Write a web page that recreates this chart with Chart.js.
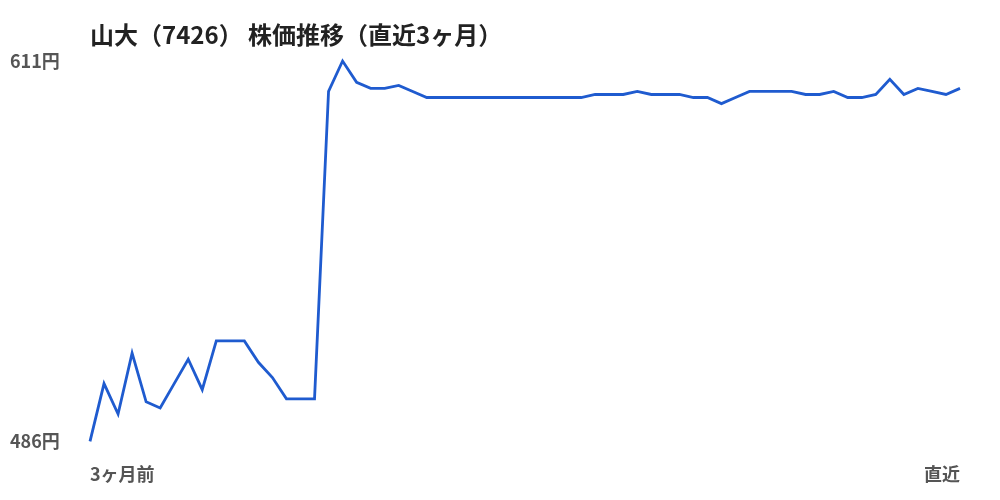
<!DOCTYPE html>
<html lang="ja">
<head>
<meta charset="utf-8">
<script src="https://cdn.jsdelivr.net/npm/chart.js@4.4.1/dist/chart.umd.min.js"></script>
<style>
  html, body { margin: 0; padding: 0; background: #ffffff; }
  #wrap { width: 1000px; height: 500px; }
</style>
</head>
<body>
<div id="wrap"><canvas id="priceChart" width="1000" height="500"></canvas></div>
<script>
const chartTitle = '山大（7426） 株価推移（直近3ヶ月）';
const startLabel = '3ヶ月前';
const endLabel = '直近';
const yMin = 486;
const yMax = 611;
const prices = [
    486, 505, 495, 515, 499, 497, 505, 513, 503, 519, 519, 519, 512, 507, 500, 500, 500,
    601, 611, 604, 602, 602, 603, 601,
    599, 599, 599, 599, 599, 599, 599, 599, 599, 599, 599, 599,
    600, 600, 600, 601, 600, 600, 600,
    599, 599, 597, 599,
    601, 601, 601, 601, 600, 600, 601, 599, 599,
    600, 605, 600, 602, 601, 600, 602
];
const days = prices.map((p, i) => i);

const fontFamily = '"Noto Sans CJK JP", "Noto Sans", sans-serif';

// title drawn at the left edge of the plot area
const titlePlugin = {
    id: 'leftTitle',
    afterDraw(chart) {
        const ctx = chart.ctx;
        ctx.save();
        ctx.font = 'bold 24px ' + fontFamily;
        ctx.fillStyle = '#222222';
        ctx.textBaseline = 'middle';
        ctx.textAlign = 'left';
        ctx.fillText(chartTitle, chart.chartArea.left, 35);
        ctx.restore();
    }
};

const ctx = document.getElementById('priceChart').getContext('2d');

new Chart(ctx, {
    type: 'line',
    data: {
        labels: days,
        datasets: [{
            data: prices,
            borderColor: '#1f5bcf',
            borderWidth: 2.8,
            pointRadius: 0,
            tension: 0,
            fill: false,
            clip: false
        }]
    },
    options: {
        responsive: false,
        animation: false,
        layout: {
            padding: { top: 61, right: 40, bottom: 10, left: 10 }
        },
        plugins: {
            legend: { display: false },
            title: { display: false },
            tooltip: { enabled: false }
        },
        scales: {
            x: {
                grid: { display: false, drawTicks: false },
                border: { display: false },
                afterFit: axis => { axis.height = axis.height - 17; },
                ticks: {
                    autoSkip: false,
                    maxRotation: 0,
                    align: 'inner',
                    padding: 22,
                    color: '#555555',
                    font: { family: fontFamily, size: 18, weight: 'bold' },
                    callback: (v, i) => i === 0 ? startLabel : (i === prices.length - 1 ? endLabel : null)
                }
            },
            y: {
                min: yMin,
                max: yMax,
                afterBuildTicks: axis => {
                    axis.ticks = [{ value: yMin }, { value: yMax }];
                },
                afterFit: axis => { axis.width = 80; },
                grid: { display: false, drawTicks: false },
                border: { display: false },
                ticks: {
                    crossAlign: 'far',
                    color: '#555555',
                    font: { family: fontFamily, size: 18, weight: 'bold' },
                    callback: v => v + '円'
                }
            }
        }
    },
    plugins: [titlePlugin]
});
</script>
</body>
</html>
